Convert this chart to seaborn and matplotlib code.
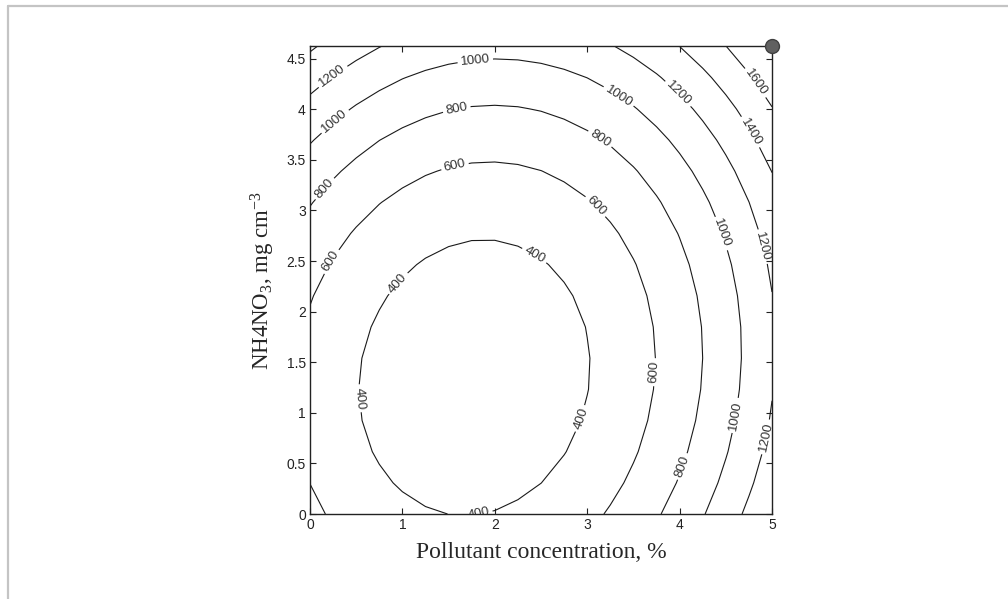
import numpy as np
import matplotlib
matplotlib.use("Agg")
import matplotlib.pyplot as plt
import seaborn as sns

# ---- data (response-surface model read off the contour positions) ----
# z = b0 + b1*x + b2*y + b11*x^2 + b22*y^2 + b12*x*y
b0 = 646.0
b_lin = [-297.9, -177.6]        # x, y
b_quad = [89.0, 75.0]           # x^2, y^2
b_inter = -14.0                 # x*y
x_range = [0.0, 5.0]
y_range = [0.0, 4.62]
levels = [400, 600, 800, 1000, 1200, 1400, 1600]
x_ticks = [0, 1, 2, 3, 4, 5]
y_ticks = [0, 0.5, 1, 1.5, 2, 2.5, 3, 3.5, 4, 4.5]
y_tick_labels = ["0", "0.5", "1", "1.5", "2", "2.5", "3", "3.5", "4", "4.5"]
corner_point_x = [5.0]
corner_point_y = [4.62]

# label anchor positions (where the labels sit on the contours)
label_pos = [
    (0.25, 4.32), (3.97, 4.14), (4.89, 2.64), (4.94, 0.76),
    (1.79, 4.46), (0.27, 3.88), (3.32, 4.10), (4.45, 2.77), (4.63, 0.97),
    (1.59, 3.99), (0.14, 3.23), (3.12, 3.68), (4.06, 0.46),
    (1.57, 3.43), (0.22, 2.50), (3.08, 3.03), (3.75, 1.40),
    (0.94, 2.29), (2.42, 2.54), (0.50, 1.14), (1.66, 0.02), (2.94, 0.94),
    (4.74, 3.76), (4.82, 4.26),
]

sns.set_style("ticks")
plt.rcParams["font.family"] = ["Liberation Sans", "DejaVu Sans"]
plt.rcParams["mathtext.fontset"] = "custom"
plt.rcParams["mathtext.rm"] = "Liberation Serif"
plt.rcParams["mathtext.it"] = "Liberation Serif:italic"

fig = plt.figure(figsize=(10.08, 5.99), dpi=100)
ax = fig.add_axes([0.3075, 0.1419, 0.4584, 0.7805])

xg = np.linspace(x_range[0], x_range[1], 21)
yg = np.linspace(y_range[0], y_range[1], 16)
X, Y = np.meshgrid(xg, yg)
Z = (b0 + b_lin[0] * X + b_lin[1] * Y + b_quad[0] * X ** 2
     + b_quad[1] * Y ** 2 + b_inter * X * Y)

cs = ax.contour(X, Y, Z, levels=levels, colors="#1a1a1a", linewidths=0.8)
ax.clabel(cs, levels=levels, manual=label_pos, inline=True, inline_spacing=3,
          fontsize=9.5, fmt="%d", colors="#333333")

sns.scatterplot(x=corner_point_x, y=corner_point_y, ax=ax, s=100,
                color="#606060", edgecolor="#404040", linewidth=1,
                clip_on=False, zorder=10, legend=False)

ax.set_xlim(x_range)
ax.set_ylim(y_range)
ax.set_xticks(x_ticks)
ax.set_yticks(y_ticks)
ax.set_yticklabels(y_tick_labels)
ax.tick_params(direction="in", top=True, right=True, length=4, width=0.8,
               labelsize=10, pad=3, colors="#222222")
for s in ax.spines.values():
    s.set_linewidth(1.0)
    s.set_color("#222222")

ax.set_xlabel("Pollutant concentration, %", family="Liberation Serif",
              fontsize=17, labelpad=7)
ax.set_ylabel(r"NH4NO$_3$, mg cm$^{-3}$", family="Liberation Serif",
              fontsize=16.5, labelpad=7)

# light grey frame (top and left edges of the page)
fig.add_artist(plt.Line2D([8 / 1008, 8 / 1008], [0, 1 - 6 / 599],
                          transform=fig.transFigure, color="#c4c4c4", lw=1.6))
fig.add_artist(plt.Line2D([8 / 1008, 1], [1 - 6 / 599, 1 - 6 / 599],
                          transform=fig.transFigure, color="#c4c4c4", lw=1.6))

fig.savefig("out.png", dpi=100)
